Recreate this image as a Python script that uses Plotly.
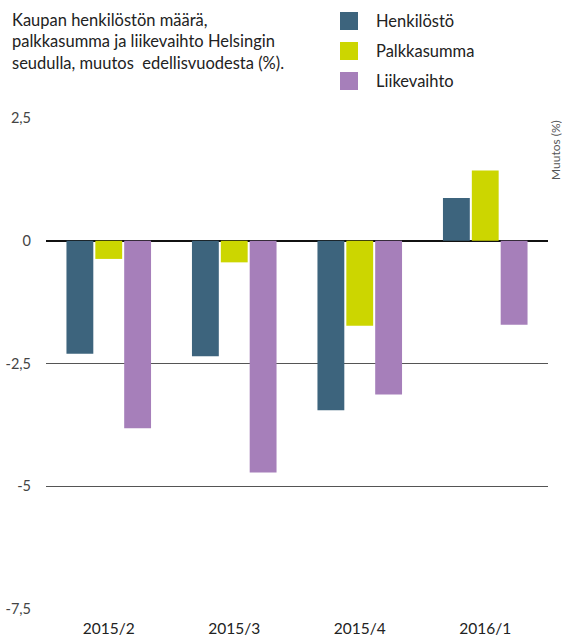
import plotly.graph_objects as go

categories = ["2015/2", "2015/3", "2015/4", "2016/1"]
series_names = ["Henkilöstö", "Palkkasumma", "Liikevaihto"]
henkilosto = [-2.30, -2.35, -3.45, 0.87]
palkkasumma = [-0.37, -0.44, -1.73, 1.43]
liikevaihto = [-3.82, -4.72, -3.13, -1.71]
colors = ["#3d647d", "#ccd600", "#a67fba"]
tick_vals = [2.5, 0, -2.5, -5, -7.5]
tick_text = ["2,5", "0", "-2,5", "-5", "-7,5"]
title_text = "Kaupan henkilöstön määrä,<br>palkkasumma ja liikevaihto Helsingin<br>seudulla, muutos&nbsp; edellisvuodesta (%)."
axis_title = "Muutos (%)"

FONT = "Lato"
L, R, T, B, W, H = 46, 14, 118, 26, 562, 635
PW, PH = W - L - R, H - T - B


def px(x):
    return (x - L) / PW


def py(y):
    return (H - B - y) / PH


fig = go.Figure()
for name, vals, col in zip(series_names, [henkilosto, palkkasumma, liikevaihto], colors):
    fig.add_trace(go.Bar(x=categories, y=vals, name=name, marker=dict(color=col, line=dict(width=0)),
                         showlegend=False))

# manual legend
for i, (name, col) in enumerate(zip(series_names, colors)):
    yc = 21 + 30 * i
    fig.add_shape(type="rect", xref="paper", yref="paper",
                  x0=px(340), x1=px(358), y0=py(yc + 9), y1=py(yc - 9),
                  fillcolor=col, line=dict(width=0))
    fig.add_annotation(xref="paper", yref="paper", x=px(374), y=py(yc),
                       text=name, showarrow=False, xanchor="left", yanchor="middle",
                       font=dict(family=FONT, size=16.5, color="#222"))

fig.add_annotation(xref="paper", yref="paper", x=px(10), y=py(8),
                   text=title_text, showarrow=False, xanchor="left", yanchor="top", align="left",
                   font=dict(family=FONT, size=16.5, color="#222"))

fig.add_annotation(xref="paper", yref="y", x=px(555), y=2.5,
                   text=axis_title, showarrow=False, textangle=-90, xanchor="center", yanchor="top",
                   font=dict(family=FONT, size=12, color="#555"))

fig.update_layout(
    width=W, height=H,
    margin=dict(l=L, r=R, t=T, b=B, autoexpand=False),
    plot_bgcolor="white", paper_bgcolor="white",
    barmode="group", bargap=0.31, bargroupgap=0.07,
    font=dict(family=FONT),
    hovermode=False,
    xaxis=dict(showgrid=False, showline=False, ticks="", ticklabelstandoff=8, automargin=False,
               tickfont=dict(family=FONT, size=15.5, color="#222")),
    yaxis=dict(range=[-7.5, 2.5], tickvals=tick_vals, ticktext=tick_text, automargin=False,
               showgrid=True, gridcolor="#555", gridwidth=1.3,
               zeroline=True, zerolinecolor="#111", zerolinewidth=2,
               ticklabelstandoff=14,
               tickfont=dict(family=FONT, size=14.5, color="#444")),
)

fig.write_html("out.html", config={"displayModeBar": False},
               post_script="document.body.style.margin='0';document.body.style.overflow='hidden';")
